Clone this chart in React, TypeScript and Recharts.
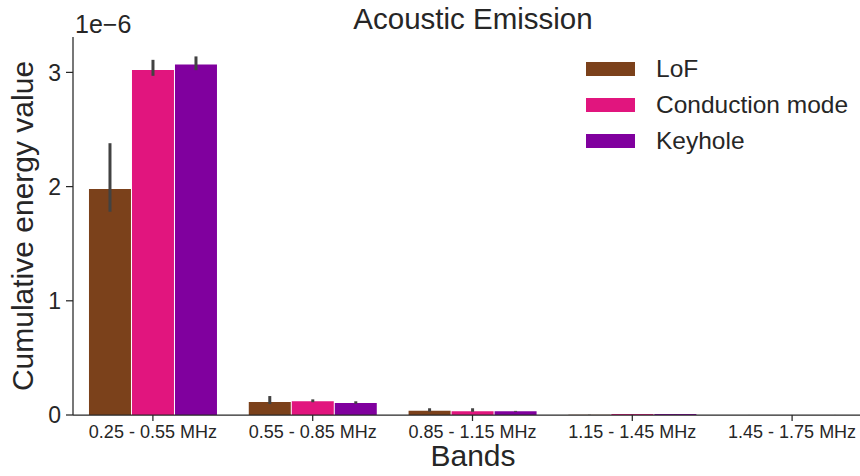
import { Bar, BarChart, ErrorBar, XAxis, YAxis } from 'recharts';

const BANDS = ['0.25 - 0.55 MHz', '0.55 - 0.85 MHz', '0.85 - 1.15 MHz', '1.15 - 1.45 MHz', '1.45 - 1.75 MHz'];

// values in units of 1e-6
const LOF = [1.98, 0.114, 0.038, 0.002, 0.0005];
const LOF_LOW = [1.78, 0.096, 0.03, 0.001, 0.0003];
const LOF_HIGH = [2.38, 0.166, 0.059, 0.003, 0.0007];

const CONDUCTION = [3.02, 0.12, 0.032, 0.008, 0.001];
const CONDUCTION_LOW = [2.97, 0.112, 0.028, 0.007, 0.0008];
const CONDUCTION_HIGH = [3.11, 0.137, 0.059, 0.009, 0.0012];

const KEYHOLE = [3.07, 0.105, 0.032, 0.008, 0.001];
const KEYHOLE_LOW = [3.02, 0.098, 0.028, 0.007, 0.0008];
const KEYHOLE_HIGH = [3.14, 0.12, 0.036, 0.009, 0.0012];

const Y_TICKS = [0, 1, 2, 3];

const SERIES = [
  { key: 'lof', name: 'LoF', color: '#7B411B' },
  { key: 'conduction', name: 'Conduction mode', color: '#E1157E' },
  { key: 'keyhole', name: 'Keyhole', color: '#80009E' },
];

const data = BANDS.map((band, i) => ({
  band,
  lof: LOF[i],
  lofErr: [LOF[i] - LOF_LOW[i], LOF_HIGH[i] - LOF[i]],
  conduction: CONDUCTION[i],
  conductionErr: [CONDUCTION[i] - CONDUCTION_LOW[i], CONDUCTION_HIGH[i] - CONDUCTION[i]],
  keyhole: KEYHOLE[i],
  keyholeErr: [KEYHOLE[i] - KEYHOLE_LOW[i], KEYHOLE_HIGH[i] - KEYHOLE[i]],
}));

const FONT = '"Liberation Sans", Arial, sans-serif';
const INK = '#262626';

const text = (size: number) => ({
  position: 'absolute' as const,
  fontFamily: FONT,
  fontSize: size,
  lineHeight: `${size}px`,
  color: INK,
  whiteSpace: 'nowrap' as const,
});

export default function App() {
  return (
    <div style={{ position: 'absolute', left: 0, top: 0, width: 860, height: 476, overflow: 'hidden', background: '#fff' }}>
      <BarChart
        width={880}
        height={476}
        data={data}
        margin={{ top: 37, right: 8, left: 0, bottom: 0 }}
        barCategoryGap="10%"
        barGap={1}
      >
        <XAxis
          dataKey="band"
          height={61}
          tickSize={6}
          tickMargin={4}
          interval={0}
          stroke={INK}
          strokeWidth={1.25}
          tick={{ fill: INK, fontSize: 18, fontFamily: FONT }}
        />
        <YAxis
          width={73}
          domain={[0, 3.31]}
          ticks={Y_TICKS}
          tickSize={7}
          tickMargin={5}
          stroke={INK}
          strokeWidth={1.25}
          tick={{ fill: INK, fontSize: 23, fontFamily: FONT }}
          allowDataOverflow
        />
        {SERIES.map((s) => (
          <Bar key={s.key} dataKey={s.key} name={s.name} fill={s.color} isAnimationActive={false}>
            <ErrorBar dataKey={`${s.key}Err`} width={0} stroke="#424242" strokeWidth={3} />
          </Bar>
        ))}
      </BarChart>

      <div style={{ ...text(29.5), left: 0, width: 946, top: 4, textAlign: 'center' }}>Acoustic Emission</div>
      <div style={{ ...text(25), left: 75, top: 12 }}>1e−6</div>
      <div
        style={{
          ...text(30),
          left: 23,
          top: 226,
          transform: 'translate(-50%, -50%) rotate(-90deg)',
        }}
      >
        Cumulative energy value
      </div>
      <div style={{ ...text(30), left: 0, width: 946, top: 441, textAlign: 'center' }}>Bands</div>

      <div style={{ position: 'absolute', left: 586, top: 51, fontFamily: FONT, color: INK, fontSize: 24.5 }}>
        {SERIES.map((s) => (
          <div key={s.key} style={{ display: 'flex', alignItems: 'center', height: 36 }}>
            <div style={{ width: 49, height: 14, background: s.color, marginRight: 21 }} />
            <span>{s.name}</span>
          </div>
        ))}
      </div>
    </div>
  );
}
